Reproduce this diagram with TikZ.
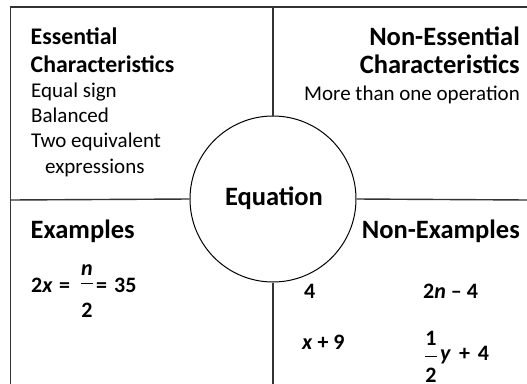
\documentclass[tikz,border=0pt]{standalone}
\usepackage{fontspec}
\setmainfont{Carlito}
\begin{document}
\begin{tikzpicture}[x=1pt,y=-1pt,
  frame/.style={line width=1.4pt,draw=black!80},
  headl/.style={font=\fontsize{23.8}{28}\selectfont\bfseries,inner sep=0pt},
  head/.style={font=\fontsize{26.5}{30}\selectfont\bfseries,inner sep=0pt},
  body/.style={font=\fontsize{21}{25}\selectfont,inner sep=0pt},
  mth/.style={font=\fontsize{22}{26}\selectfont\bfseries,inner sep=0pt},
  bar/.style={line width=0.9pt}]
\useasboundingbox (0,0) rectangle (527,383);
\fill[white] (0,0) rectangle (527,383);
\node[circle,draw,line width=1pt,minimum size=166pt,inner sep=0pt] (c) at (273,199) {};
\coordinate (tl) at (10.5,7);
\coordinate (tr) at (528,7);
\coordinate (bl) at (10.5,384);
\coordinate (vt) at (273,7);
\coordinate (vb) at (273,384);
\coordinate (hl) at (10.5,200);
\coordinate (hr) at (528,200);
\draw[frame] (bl) -- (tl) -- (tr);
\draw[frame] (vt) -- (c.north);
\draw[frame] (c.south) -- (vb);
\draw[frame] (hl) -- (c.west);
\draw[frame] (c.east) -- (hr);
% top left
\node[headl,anchor=base west] (e1) at (30.5,44.5) {Essential};
\node[headl,anchor=base west] (e2) at (30.5,72.5) {Characteristics};
\node[body,anchor=base west] (e3) at (31,97) {Equal sign};
\node[body,anchor=base west] (e4) at (31,122) {Balanced};
\node[body,anchor=base west] (e5) at (31,147) {Two equivalent};
\node[body,anchor=base west] (e6) at (45,173) {expressions};
% top right
\node[head,anchor=base east] (n1) at (520,45) {Non-Essential};
\node[head,anchor=base east] (n2) at (520,73) {Characteristics};
\node[body,anchor=base east] (n3) at (520,100) {More than one operation};
% center
\node[head,anchor=base] (eq) at (274,205) {Equation};
% bottom left
\node[head,anchor=base west] (x1) at (30.5,238) {Examples};
\node[mth,anchor=base west] (m1) at (31,292) {2\textit{x}};
\node[mth,anchor=base west] (m1e) at (59,292) {=};
\node[mth,anchor=base] (m2) at (87,275) {\textit{n}};
\coordinate (b1l) at (81,283);
\coordinate (b1r) at (93,283);
\draw[bar] (b1l) -- (b1r);
\node[mth,anchor=base] (m3) at (87,317) {2};
\node[mth,anchor=base west] (m4e) at (96,292) {=};
\node[mth,anchor=base west] (m4) at (114,292) {35};
% bottom right
\node[head,anchor=base east] (y1) at (520,238) {Non-Examples};
\node[mth,anchor=base west] (p1) at (304,298) {4};
\node[mth,anchor=base west] (p2) at (423,298) {2\textit{n} – 4};
\node[mth,anchor=base west] (p3) at (302,349) {\textit{x} + 9};
\node[mth,anchor=base] (p4) at (431,345) {1};
\coordinate (b2l) at (425,356);
\coordinate (b2r) at (437,356);
\draw[bar] (b2l) -- (b2r);
\node[mth,anchor=base west] (p5) at (440,360) {\textit{y}\hspace{0.36em}+\hspace{0.36em}4};
\node[mth,anchor=base] (p6) at (431,382) {2};
\end{tikzpicture}
\end{document}
